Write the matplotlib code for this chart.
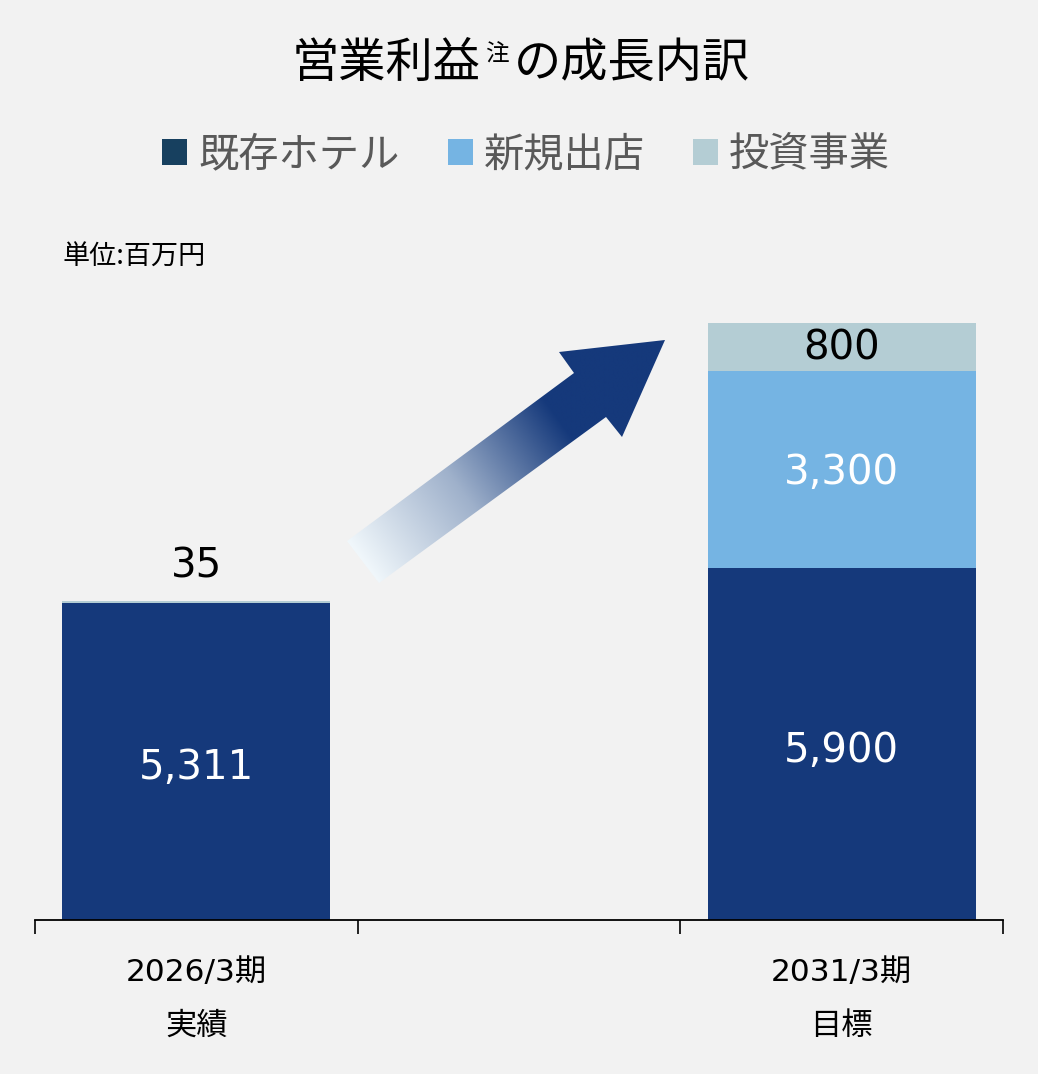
import matplotlib
matplotlib.use("Agg")
import matplotlib.pyplot as plt
import numpy as np
from matplotlib.patches import Patch, Polygon
from matplotlib.colors import LinearSegmentedColormap

plt.rcParams['font.family'] = ['DejaVu Sans', 'Noto Sans CJK JP']
CJK = ['Noto Sans CJK JP', 'DejaVu Sans']

# ---- data ----
categories = ["2026/3期\n実績", "", "2031/3期\n目標"]
series_names = ["既存ホテル", "新規出店", "投資事業"]
existing = [5311, 0, 5900]
new_store = [0, 0, 3300]
investment = [35, 0, 800]
bar_present = [True, False, True]

colors = ["#15397b", "#75b4e3", "#b4cdd4"]
legend_colors = ["#17405f", "#75b4e3", "#b4cdd4"]
bg = "#f2f2f2"

W, H = 1038, 1074
fig = plt.figure(figsize=(W / 100, H / 100), dpi=100, facecolor=bg)

# axes placement
x0, x1 = 35, 1003
ybase, ytop = 920, 323
ax = fig.add_axes([x0 / W, 1 - ybase / H, (x1 - x0) / W, (ybase - ytop) / H])
ax.set_facecolor(bg)
ax.set_xlim(-0.5, 2.5)
ax.set_ylim(0, 10000)

xs = np.arange(len(categories))
idx = [i for i in xs if bar_present[i]]
bw = 0.83
e = np.array(existing, float)
n = np.array(new_store, float)
v = np.array(investment, float)
ax.bar(xs[idx], e[idx], bw, color=colors[0], zorder=2)
ax.bar(xs[idx], n[idx], bw, bottom=e[idx], color=colors[1], zorder=2)
ax.bar(xs[idx], v[idx], bw, bottom=(e + n)[idx], color=colors[2], zorder=2)

# value labels
fs_val = 29
def lab(x, y, s, color, dy=-4):
    ax.annotate(s, (x, y), xytext=(0, dy), textcoords="offset points",
                ha="center", va="center", color=color, fontsize=fs_val, zorder=3)

for i in idx:
    lab(xs[i], e[i] / 2, f"{int(e[i]):,}", "white", dy=-5)
    if n[i] > 0:
        lab(xs[i], e[i] + n[i] / 2, f"{int(n[i]):,}", "white", dy=-3)
    if v[i] > 300:
        lab(xs[i], e[i] + n[i] + v[i] / 2, f"{int(v[i]):,}", "black", dy=-1)
    else:
        lab(xs[i], e[i] + n[i] + v[i], f"{int(v[i]):,}", "black", dy=25)

# axes styling
for s in ["top", "right", "left"]:
    ax.spines[s].set_visible(False)
ax.spines["bottom"].set_color("black")
ax.spines["bottom"].set_linewidth(1.3)
ax.set_yticks([])
ax.set_xticks([-0.5, 0.5, 1.5, 2.5])
ax.set_xticklabels([])
ax.tick_params(axis="x", direction="out", length=10, width=1.2, color="black")
ax.set_xticks(xs, minor=True)
ax.set_xticklabels(categories, minor=True, fontsize=22.5, linespacing=2.1)
ax.tick_params(axis="x", which="minor", length=0, pad=27)

# title
ty = 1 - 64 / H
fig.text(292 / W, ty, "営業利益", ha="left", va="center", fontsize=34, color="black", family=CJK)
fig.text(497 / W, 1 - 55 / H, "注", ha="center", va="center", fontsize=17, color="black", family=CJK)
fig.text(514 / W, ty, "の成長内訳", ha="left", va="center", fontsize=34, color="black", family=CJK)

# legend
handles = [Patch(facecolor=c, edgecolor="none") for c in legend_colors]
fig.legend(handles, series_names, loc="center", bbox_to_anchor=(526 / W, 1 - 155 / H),
           ncol=3, frameon=False, prop={'family': CJK, 'size': 29},
           handlelength=0.62, handleheight=0.62,
           handletextpad=0.27, columnspacing=1.2, labelcolor="#595959")

# unit
fig.text(62 / W, 1 - 257 / H, "単位:百万円", ha="left", va="center", fontsize=19.5,
         color="black", family=CJK)

# gradient arrow (decoration), in figure pixel coords
oax = fig.add_axes([0, 0, 1, 1], facecolor="none")
oax.set_xlim(0, W)
oax.set_ylim(H, 0)
oax.axis("off")
pts = [(347, 541), (574, 373), (559, 352), (665, 340), (622, 437), (606, 417), (379, 583)]
poly = Polygon(pts, closed=True, facecolor="none", edgecolor="none")
oax.add_patch(poly)
p0 = np.array([363, 562.0])
p1 = np.array([560, 420.0])
d = p1 - p0
gx, gy = np.meshgrid(np.linspace(340, 670, 400), np.linspace(330, 590, 320))
tt = ((gx - p0[0]) * d[0] + (gy - p0[1]) * d[1]) / (d @ d)
tt = np.clip(tt, 0, 1)
cmap = LinearSegmentedColormap.from_list("g", ["#f0f7fb", "#9fb1cb", "#15397b"])
im = oax.imshow(tt, extent=[340, 670, 590, 330], cmap=cmap, vmin=0, vmax=1,
                interpolation="bilinear", aspect="auto", zorder=1)
im.set_clip_path(poly)

fig.savefig("out.png", dpi=100, facecolor=bg)
